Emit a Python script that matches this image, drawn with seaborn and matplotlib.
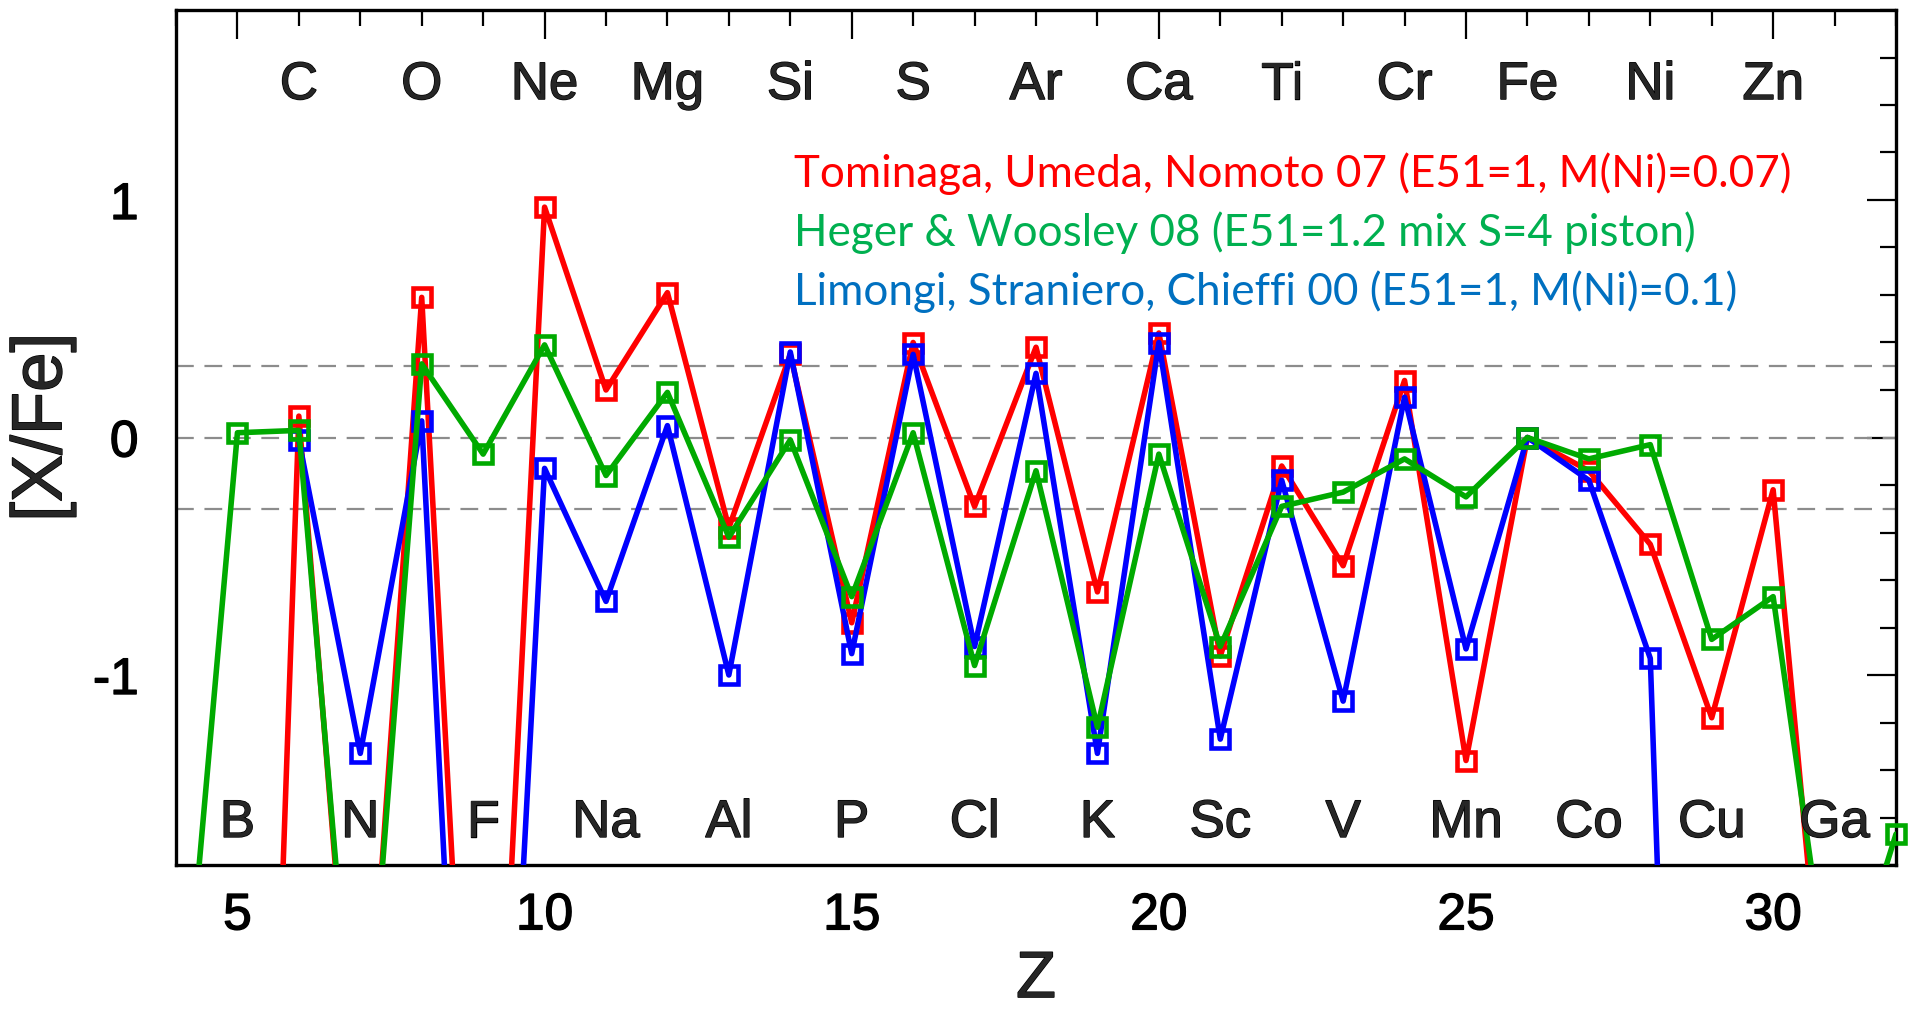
import numpy as np
import pandas as pd
import matplotlib
matplotlib.use("Agg")
import matplotlib.pyplot as plt
import matplotlib.patheffects as pe
from matplotlib.ticker import MultipleLocator, FixedLocator
import seaborn as sns

# ---------------- data ----------------
z_tum = list(range(5, 32))
xfe_tum = [-7.3, 0.09, -3.1, 0.59, -4.2, 0.97, 0.20, 0.61, -0.38, 0.35, -0.78,
           0.40, -0.29, 0.38, -0.65, 0.44, -0.92, -0.12, -0.54, 0.24, -1.36,
           0.00, -0.14, -0.45, -1.18, -0.22, -3.0]

z_hw = list(range(4, 33))
xfe_hw = [-2.9, 0.02, 0.03, -3.0, 0.31, -0.07, 0.39, -0.16, 0.19, -0.42, -0.01,
          -0.67, 0.02, -0.96, -0.14, -1.22, -0.07, -0.88, -0.29, -0.23, -0.09,
          -0.25, 0.00, -0.09, -0.03, -0.85, -0.67, -2.5, -1.67]

z_lsc = list(range(6, 30))
xfe_lsc = [-0.01, -1.33, 0.07, -5.0, -0.13, -0.69, 0.05, -1.00, 0.36, -0.91,
           0.35, -0.88, 0.27, -1.33, 0.40, -1.27, -0.18, -1.11, 0.17, -0.89,
           0.00, -0.18, -0.93, -8.5]

top_elems = ["C", "O", "Ne", "Mg", "Si", "S", "Ar", "Ca", "Ti", "Cr", "Fe", "Ni", "Zn"]
top_z = [6, 8, 10, 12, 14, 16, 18, 20, 22, 24, 26, 28, 30]
bottom_elems = ["B", "N", "F", "Na", "Al", "P", "Cl", "K", "Sc", "V", "Mn", "Co", "Cu", "Ga"]
bottom_z = [5, 7, 9, 11, 13, 15, 17, 19, 21, 23, 25, 27, 29, 31]

legend_texts = ["Tominaga, Umeda, Nomoto 07 (E51=1, M(Ni)=0.07)",
                "Heger & Woosley 08 (E51=1.2 mix S=4 piston)",
                "Limongi, Straniero, Chieffi 00 (E51=1, M(Ni)=0.1)"]
ref_lines = [0.3, 0.0, -0.3]
x_major = [5, 10, 15, 20, 25, 30]
y_major = [-1, 0, 1]

# ---------------- style ----------------
sns.set_style("white")
plt.rcParams['font.family'] = ['Liberation Sans', 'DejaVu Sans']

W, H = 1915, 1018
fig = plt.figure(figsize=(W / 100, H / 100), dpi=100)
ax_l, ax_r, ax_t, ax_b = 176, 1896, 10, 865
ax = fig.add_axes([ax_l / W, 1 - ax_b / H, (ax_r - ax_l) / W, (ax_b - ax_t) / H])

XLIM = (4, 32)
YLIM = (-1.8, 1.8)

series = [
    (z_tum, xfe_tum, "#FF0000", 3),
    (z_lsc, xfe_lsc, "#0000FF", 4),
    (z_hw, xfe_hw, "#00AA00", 5),
]

for yv in ref_lines:
    ax.axhline(yv, color="#8C8C8C", lw=1.6, ls=(0, (8, 4.8)), zorder=1)

for zs, vals, col, zo in series:
    df = pd.DataFrame({"Z": zs, "XFe": vals})
    sns.lineplot(data=df, x="Z", y="XFe", ax=ax, color=col, lw=4.0,
                 estimator=None, sort=True, zorder=zo)
    inside = df[(df.XFe >= YLIM[0]) & (df.XFe <= YLIM[1]) &
                (df.Z >= XLIM[0]) & (df.Z <= XLIM[1])]
    ax.plot(inside.Z, inside.XFe, ls="none", marker="s", ms=12.5,
            mfc="none", mec=col, mew=3.3, clip_on=False, zorder=zo + 0.5)

ax.set_xlim(*XLIM)
ax.set_ylim(*YLIM)

ax.xaxis.set_major_locator(FixedLocator(x_major))
ax.xaxis.set_minor_locator(MultipleLocator(1))
ax.yaxis.set_major_locator(FixedLocator(y_major))
ax.yaxis.set_minor_locator(MultipleLocator(0.2))
ax.set_yticklabels([str(v) for v in y_major])
ax.set_xticklabels([str(v) for v in x_major])

ax.tick_params(axis="both", which="both", direction="in", top=True, right=True,
               colors="black", width=1.6)
ax.tick_params(axis="both", which="major", length=21)
ax.tick_params(axis="both", which="minor", length=11.5)
ax.tick_params(axis="y", which="major", labelsize=37, pad=27)
ax.tick_params(axis="x", which="major", labelsize=37, pad=19)

for sp in ax.spines.values():
    sp.set_linewidth(2.4)
    sp.set_color("black")
    sp.set_visible(True)

thick = [pe.withStroke(linewidth=1.0, foreground="black")]

ax.set_xlabel("Z", fontsize=47, labelpad=7, path_effects=thick)
ax.set_ylabel("[X/Fe]", fontsize=51, path_effects=thick)
ax.yaxis.set_label_coords(-0.058, 0.512)

for lab in ax.get_xticklabels() + ax.get_yticklabels():
    lab.set_path_effects(thick)

for name, z in zip(top_elems, top_z):
    ax.text(z, 1.425, name, fontsize=38, ha="center", va="baseline", zorder=6,
            path_effects=thick)
for name, z in zip(bottom_elems, bottom_z):
    ax.text(z, -1.682, name, fontsize=38, ha="center", va="baseline", zorder=6,
            path_effects=thick)

leg_colors = ["#FF0000", "#00B050", "#0070C0"]
leg_y = [1.055, 0.808, 0.557]
leg_x = 14.06
texts = []
for txt, c, yy in zip(legend_texts, leg_colors, leg_y):
    texts.append(ax.text(leg_x, yy, txt, color=c, fontsize=34, ha="left",
                         va="baseline", family=["Lato", "DejaVu Sans"], zorder=7))
fig.canvas.draw()
w0 = texts[0].get_window_extent().width
scale = 997.0 / w0
for t in texts:
    t.set_fontsize(34 * scale)

fig.savefig("out.png", dpi=100)
